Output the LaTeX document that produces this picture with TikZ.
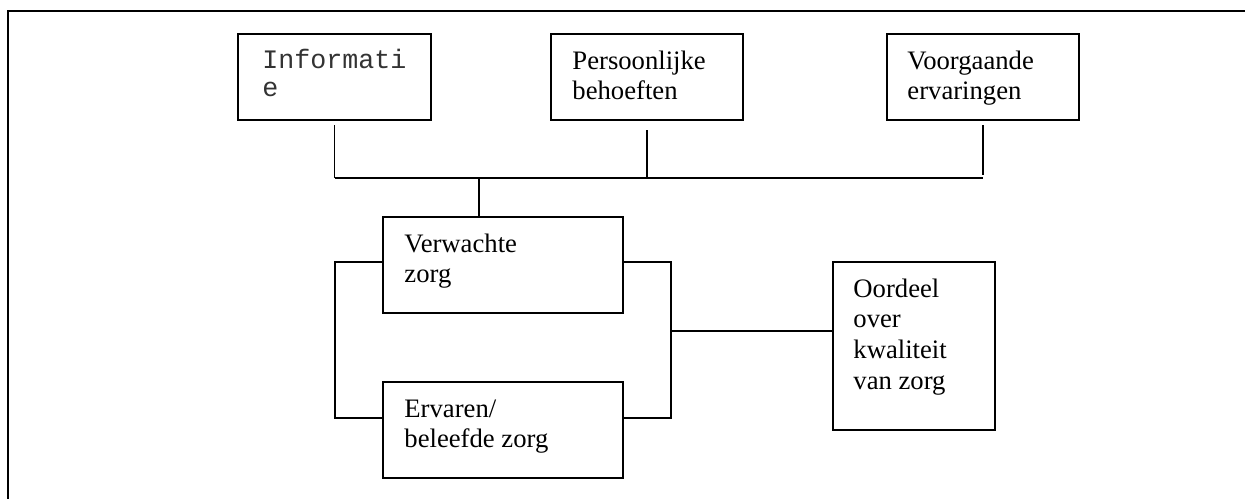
\documentclass[tikz,border=0pt]{standalone}
\usepackage{fontspec}
\setmainfont{Liberation Serif}
\setmonofont{Liberation Mono}
\usetikzlibrary{calc}
\begin{document}
\begin{tikzpicture}[x=0.45pt,y=-0.45pt,
  frame/.style={line width=1.3pt},
  box/.style={draw,line width=1pt,anchor=north west,inner sep=0pt,outer sep=0pt},
  conn/.style={line width=0.85pt},
  txt/.style={anchor=base west,inner sep=0pt,font=\fontsize{12pt}{13.8pt}\selectfont},
  mono/.style={anchor=base west,inner sep=0pt,font=\fontsize{12pt}{12.8pt}\selectfont\ttfamily,text=black!80}]
\useasboundingbox (0,0) rectangle (1245,499);
% frame (top and left edges only)
\coordinate (fTR) at (1245,11);
\coordinate (fTL) at (8,11);
\coordinate (fBL) at (8,499);
\draw[frame] (fTR) -- (fTL) -- (fBL);
% boxes
\node[box,minimum width=193*0.45pt,minimum height=86*0.45pt] (inf) at (238,34) {};
\node[box,minimum width=192*0.45pt,minimum height=86*0.45pt] (per) at (551,34) {};
\node[box,minimum width=192*0.45pt,minimum height=86*0.45pt] (voo) at (887,34) {};
\node[box,minimum width=240*0.45pt,minimum height=96*0.45pt] (ver) at (383,217) {};
\node[box,minimum width=240*0.45pt,minimum height=96*0.45pt] (erv) at (383,382) {};
\node[box,minimum width=162*0.45pt,minimum height=168*0.45pt] (oor) at (833,262) {};
% texts
\node[mono] (infT) at (262,68) {\parbox[t]{80pt}{\raggedright Informati\\e}};
\node[txt] (perT) at (572,69) {\parbox[t]{80pt}{\raggedright Persoonlijke\\behoeften}};
\node[txt] (vooT) at (907,69) {\parbox[t]{80pt}{\raggedright Voorgaande\\ervaringen}};
\node[txt] (verT) at (404,252) {\parbox[t]{90pt}{\raggedright Verwachte\\zorg}};
\node[txt] (ervT) at (404,417) {\parbox[t]{90pt}{\raggedright Ervaren/\\beleefde zorg}};
\node[txt] (oorT) at (853,297) {\parbox[t]{70pt}{\raggedright Oordeel\\over\\kwaliteit\\van zorg}};
% bus
\coordinate (busL) at (335,178);
\coordinate (busR) at (983,178);
\coordinate (drop) at (479,178);
\draw[conn] ($(inf.south)+(0,5)$) -- (inf.south |- busL);
\draw[conn] ($(per.south)+(0,10)$) -- (per.south |- busL);
\draw[conn] ($(voo.south)+(0,5)$) -- ($(voo.south |- busR)+(0,-3)$);
\draw[conn] (busL) -- (busR);
\draw[conn] (drop) -- (drop |- ver.north);
% brackets
\coordinate (lT) at (335,262);
\coordinate (lB) at (335,418);
\coordinate (rT) at (671,262);
\coordinate (rB) at (671,418);
\coordinate (mid) at (671,331);
\draw[conn] (ver.west |- lT) -- (lT) -- (lB) -- (erv.west |- lB);
\draw[conn] (ver.east |- rT) -- (rT) -- (rB) -- (erv.east |- rB);
\draw[conn] (mid) -- (oor.west |- mid);
\end{tikzpicture}
\end{document}
